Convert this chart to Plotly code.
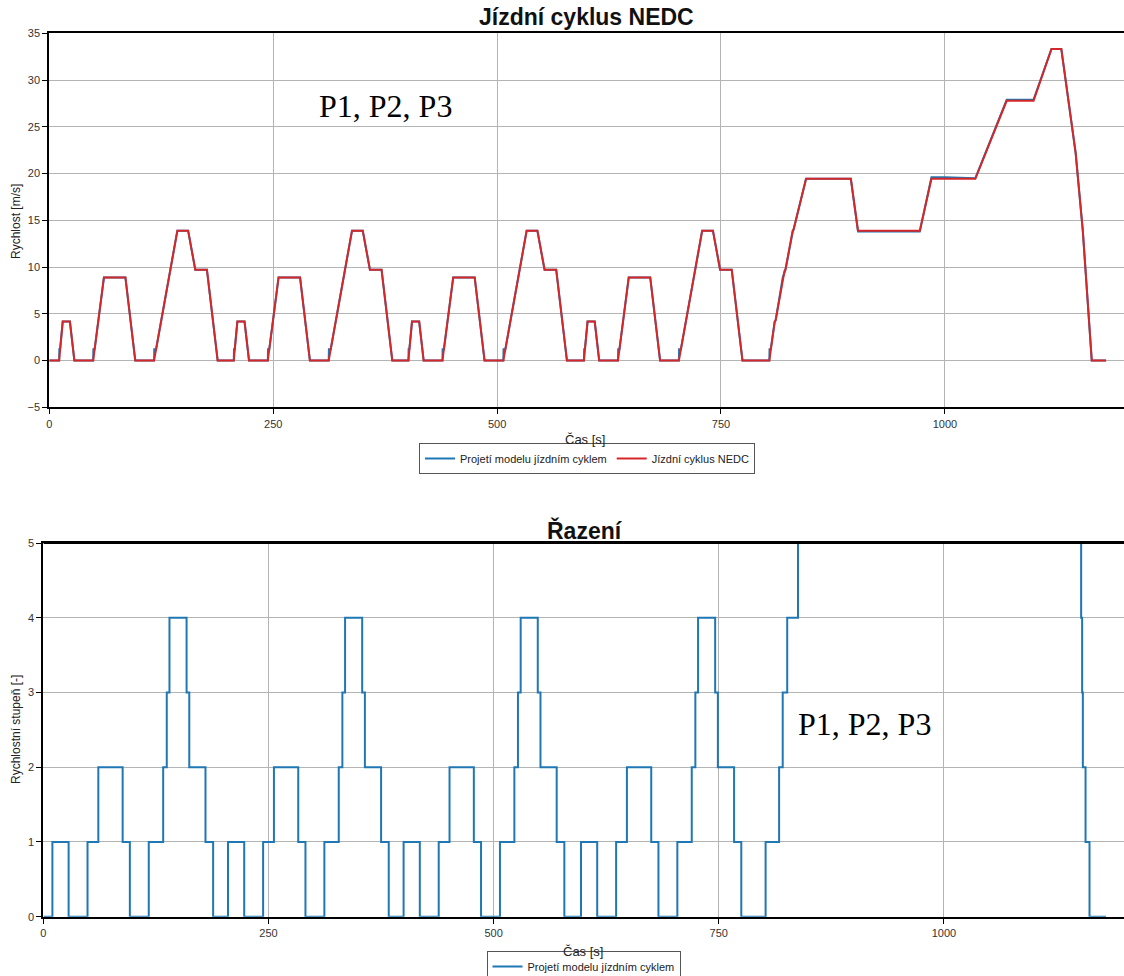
import plotly.graph_objects as go

# ---------------- data ----------------
# NEDC reference speed [m/s]
t_nedc = [0, 11, 15, 23, 28, 49, 61, 85, 96, 117, 143, 155, 163, 176, 188,
          206, 210, 218, 223, 244, 256, 280, 291, 312, 338, 350, 358, 371, 383,
          401, 405, 413, 418, 439, 451, 475, 486, 507, 533, 545, 553, 566, 578,
          597, 601, 609, 614, 635, 647, 671, 682, 703, 729, 741, 749, 762, 774,
          804, 810, 811, 821, 822, 830, 831, 845, 895, 903, 972, 985, 1034, 1069,
          1099, 1119, 1130, 1146, 1154, 1164, 1180]
v_nedc = [0, 0, 4.17, 4.17, 0, 0, 8.89, 8.89, 0, 0, 13.89, 13.89, 9.72, 9.72, 0,
          0, 4.17, 4.17, 0, 0, 8.89, 8.89, 0, 0, 13.89, 13.89, 9.72, 9.72, 0,
          0, 4.17, 4.17, 0, 0, 8.89, 8.89, 0, 0, 13.89, 13.89, 9.72, 9.72, 0,
          0, 4.17, 4.17, 0, 0, 8.89, 8.89, 0, 0, 13.89, 13.89, 9.72, 9.72, 0,
          0, 4.17, 4.3, 9.6, 9.72, 13.89, 14.0, 19.44, 19.44, 13.89, 13.89, 19.44, 19.44, 27.78,
          27.78, 33.33, 33.33, 22.22, 13.89, 0, 0]

# model speed [m/s]
t_model = [0, 11, 11.2, 12.0, 15, 23, 28, 49, 49.2, 50.6, 61, 85, 96, 117, 117.2, 119.2, 143, 155, 163, 176, 188,
           206, 206.2, 207.0, 210, 218, 223, 244, 244.2, 245.6, 256, 280, 291, 312, 312.2, 314.2, 338, 350, 358, 371, 383,
           401, 401.2, 402.0, 405, 413, 418, 439, 439.2, 440.6, 451, 475, 486, 507, 507.2, 509.2, 533, 545, 553, 566, 578,
           597, 597.2, 598.0, 601, 609, 614, 635, 635.2, 636.6, 647, 671, 682, 703, 703.2, 705.2, 729, 741, 749, 762, 774,
           804, 804.2, 805.5, 810, 811, 819, 821, 822, 830, 831, 845, 895, 903, 972, 985, 1000, 1034, 1069,
           1099, 1119, 1130, 1146, 1154, 1164, 1180]
v_model = [0, 0, 1.2, 1.2, 4.17, 4.17, 0, 0, 1.2, 1.2, 8.89, 8.89, 0, 0, 1.2, 1.2, 13.89, 13.89, 9.72, 9.72, 0,
           0, 1.2, 1.2, 4.17, 4.17, 0, 0, 1.2, 1.2, 8.89, 8.89, 0, 0, 1.2, 1.2, 13.89, 13.89, 9.72, 9.72, 0,
           0, 1.2, 1.2, 4.17, 4.17, 0, 0, 1.2, 1.2, 8.89, 8.89, 0, 0, 1.2, 1.2, 13.89, 13.89, 9.72, 9.72, 0,
           0, 1.2, 1.2, 4.17, 4.17, 0, 0, 1.2, 1.2, 8.89, 8.89, 0, 0, 1.2, 1.2, 13.89, 13.89, 9.72, 9.72, 0,
           0, 1.2, 1.2, 4.17, 4.3, 8.9, 9.4, 9.72, 13.7, 14.0, 19.44, 19.44, 13.8, 13.8, 19.6, 19.6, 19.5, 27.9,
           27.9, 33.33, 33.33, 22.22, 13.89, 0, 0]

# model gear [-]
t_gear = [0, 10, 28, 49, 61, 88, 96, 117, 133, 137, 140, 159, 162, 180, 188.5,
          205, 223, 244, 256, 283, 291, 312, 328, 332, 335, 354, 357, 375, 383.5,
          400, 418, 439, 451, 478, 486, 507, 523, 527, 530, 549, 552, 570, 578.5,
          597, 615, 636, 648, 675, 683, 704, 720, 724, 727, 746, 749, 767, 775,
          802, 817, 821, 826, 838, 1152.4, 1153.5, 1154.3, 1157.3, 1161.7, 1180]
g_gear = [0, 1, 0, 1, 2, 1, 0, 1, 2, 3, 4, 3, 2, 1, 0,
          1, 0, 1, 2, 1, 0, 1, 2, 3, 4, 3, 2, 1, 0,
          1, 0, 1, 2, 1, 0, 1, 2, 3, 4, 3, 2, 1, 0,
          1, 0, 1, 2, 1, 0, 1, 2, 3, 4, 3, 2, 1, 0,
          1, 2, 3, 4, 5, 4, 3, 2, 1, 0, 0]

x_ticks = [0, 250, 500, 750, 1000]
y1_ticks = [-5, 0, 5, 10, 15, 20, 25, 30, 35]
y2_ticks = [0, 1, 2, 3, 4, 5]

BLUE = "#1f77b4"
RED = "#d62728"
FONT = "Liberation Sans, Arial, sans-serif"
W, H = 1124, 976

fig = go.Figure()
fig.add_trace(go.Scatter(x=t_model, y=v_model, mode="lines", name="Projetí modelu jízdním cyklem",
                         line=dict(color=BLUE, width=2), xaxis="x", yaxis="y", legend="legend"))
fig.add_trace(go.Scatter(x=t_nedc, y=v_nedc, mode="lines", name="Jízdní cyklus NEDC",
                         line=dict(color=RED, width=2), xaxis="x", yaxis="y", legend="legend"))
fig.add_trace(go.Scatter(x=t_gear, y=g_gear, mode="lines", name="Projetí modelu jízdním cyklem",
                         line=dict(color=BLUE, width=2, shape="hv"), xaxis="x2", yaxis="y2", legend="legend2"))

def px_x(p):
    return p / W

def px_y(p):
    return 1 - p / H

axis_common = dict(showline=True, linecolor="black", linewidth=2,
                   showgrid=True, gridcolor="#b4b4b4", gridwidth=1, zeroline=False,
                   ticks="outside", ticklen=5, tickcolor="black", tickwidth=1,
                   tickfont=dict(family=FONT, size=11, color="#333333"))

fig.update_layout(
    width=W, height=H,
    margin=dict(l=0, r=0, t=0, b=0, autoexpand=False),
    paper_bgcolor="white", plot_bgcolor="white",
    font=dict(family=FONT, color="#222222"),
    xaxis=dict(domain=[px_x(49.3), 1.0], anchor="y", range=[0, 1200], tickvals=x_ticks, mirror=True, **axis_common),
    yaxis=dict(domain=[px_y(407.3), px_y(33.3)], anchor="x", range=[-5, 35], tickvals=y1_ticks, mirror=False, **axis_common),
    xaxis2=dict(domain=[px_x(43.4), 1.0], anchor="y2", range=[0, 1200], tickvals=x_ticks, mirror=True, **axis_common),
    yaxis2=dict(domain=[px_y(916.7), px_y(543)], anchor="x2", range=[0, 5], tickvals=y2_ticks, mirror=False, **axis_common),
    legend=dict(x=px_x(587), y=px_y(458.5), xanchor="center", yanchor="middle", orientation="h",
                bordercolor="#555555", borderwidth=1, bgcolor="white", itemwidth=30,
                font=dict(family=FONT, size=11, color="#222222"), tracegroupgap=0),
    legend2=dict(x=px_x(583.5), y=px_y(966.5), xanchor="center", yanchor="middle", orientation="h",
                 bordercolor="#555555", borderwidth=1, bgcolor="white", itemwidth=30,
                 font=dict(family=FONT, size=11, color="#222222")),
    showlegend=True,
)

# black top border line drawn above the traces of the gear chart
fig.add_shape(type="line", xref="x2", yref="y2", x0=0, x1=1200, y0=5, y1=5,
              line=dict(color="black", width=2), layer="above")

ann = []
def add_text(text, x, y, size, family=FONT, color="#111111", angle=0):
    ann.append(dict(text=text, x=px_x(x), y=px_y(y), xref="paper", yref="paper",
                    xanchor="center", yanchor="middle", showarrow=False, textangle=angle,
                    font=dict(family=family, size=size, color=color)))

add_text("<b>Jízdní cyklus NEDC</b>", 586, 17, 23)
add_text("<b>Řazení</b>", 585, 530, 23)
add_text("Čas [s]", 585, 440, 13, color="#222222")
add_text("Čas [s]", 583, 951, 13, color="#222222")
add_text("Rychlost [m/s]", 16, 222, 12, color="#222222", angle=-90)
add_text("Rychlostní stupeň [-]", 16, 730, 12, color="#222222", angle=-90)
add_text("P1, P2, P3", 385, 106, 32, family="Liberation Serif, Times New Roman, serif", color="#000000")
add_text("P1, P2, P3", 864, 724, 32, family="Liberation Serif, Times New Roman, serif", color="#000000")
fig.update_layout(annotations=ann)

fig.write_html("out.html", config={"displayModeBar": False},
               post_script="document.body.style.margin='0px';document.body.style.overflow='hidden';")
